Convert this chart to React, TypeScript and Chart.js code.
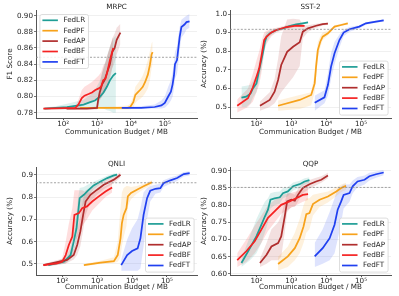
import React, { useEffect, useRef } from 'react';
import { Chart, registerables } from 'chart.js';

Chart.register(...registerables);

const FONT = '"DejaVu Sans", sans-serif';
const TEXT = '#262626';
const FS = 7.2;

const seriesNames = ['FedLR', 'FedPF', 'FedAP', 'FedBF', 'FedFT'];
const seriesColors = ['#1f9e96', '#f7a21b', '#b02e2e', '#f52222', '#2040f0'];
const xTickValues = [100, 1000, 10000, 100000];
const xTickLabels = ['10²', '10³', '10⁴', '10⁵'];
const xTitle = 'Communication Budget / MB';

// each point: [budget MB, mean, band low, band high]
const mrpcFedLR = [[28, 0.785, 0.784, 0.786], [60, 0.786, 0.784, 0.788], [130, 0.787, 0.784, 0.791], [400, 0.79, 0.785, 0.796], [630, 0.793, 0.786, 0.802], [870, 0.795, 0.786, 0.808], [1230, 0.8, 0.786, 0.82], [1550, 0.805, 0.785, 0.835], [1950, 0.812, 0.783, 0.85], [2400, 0.82, 0.782, 0.862], [3000, 0.826, 0.78, 0.872], [3600, 0.829, 0.78, 0.875]];
const mrpcFedPF = [[316, 0.786, 0.785, 0.787], [1000, 0.786, 0.785, 0.787], [4000, 0.786, 0.784, 0.788], [7900, 0.786, 0.784, 0.789], [9550, 0.787, 0.784, 0.791], [11750, 0.793, 0.786, 0.8], [13500, 0.802, 0.792, 0.812], [15850, 0.805, 0.795, 0.816], [18600, 0.808, 0.797, 0.82], [22400, 0.812, 0.8, 0.826], [26300, 0.818, 0.804, 0.834], [31600, 0.827, 0.81, 0.845], [36300, 0.839, 0.82, 0.856], [40700, 0.852, 0.835, 0.866], [43650, 0.855, 0.84, 0.868]];
const mrpcFedAP = [[126, 0.785, 0.784, 0.786], [500, 0.785, 0.784, 0.786], [1000, 0.786, 0.784, 0.788], [1072, 0.795, 0.788, 0.8], [1200, 0.805, 0.795, 0.815], [1413, 0.815, 0.8, 0.83], [1660, 0.82, 0.805, 0.838], [1995, 0.83, 0.812, 0.85], [2400, 0.84, 0.82, 0.86], [2820, 0.855, 0.835, 0.872], [3311, 0.86, 0.842, 0.878], [3800, 0.87, 0.852, 0.885], [4470, 0.876, 0.86, 0.888], [4900, 0.879, 0.865, 0.89]];
const mrpcFedBF = [[26, 0.785, 0.784, 0.786], [229, 0.786, 0.784, 0.788], [282, 0.79, 0.785, 0.796], [355, 0.798, 0.788, 0.808], [427, 0.801, 0.79, 0.812], [562, 0.803, 0.792, 0.815], [708, 0.805, 0.794, 0.818], [891, 0.808, 0.796, 0.822], [1122, 0.81, 0.797, 0.826], [1318, 0.812, 0.798, 0.83], [1514, 0.82, 0.803, 0.838], [1778, 0.822, 0.806, 0.842], [1995, 0.83, 0.812, 0.85], [2400, 0.845, 0.825, 0.862], [3000, 0.86, 0.84, 0.874]];
const mrpcFedFT = [[5370, 0.786, 0.785, 0.787], [20000, 0.786, 0.785, 0.788], [50100, 0.787, 0.785, 0.79], [79400, 0.789, 0.785, 0.795], [100000, 0.792, 0.786, 0.8], [125900, 0.8, 0.79, 0.812], [151400, 0.806, 0.795, 0.82], [169800, 0.815, 0.8, 0.83], [186200, 0.826, 0.81, 0.842], [199500, 0.84, 0.822, 0.855], [229100, 0.845, 0.828, 0.862], [251200, 0.86, 0.842, 0.875], [275400, 0.874, 0.858, 0.886], [309000, 0.886, 0.873, 0.895], [380200, 0.889, 0.878, 0.898], [436500, 0.892, 0.883, 0.9], [537000, 0.893, 0.885, 0.902]];
const mrpcYTicks = [0.78, 0.8, 0.82, 0.84, 0.86, 0.88, 0.9];
const mrpcYLabels = ['0.78', '0.80', '0.82', '0.84', '0.86', '0.88', '0.90'];
const mrpcThreshold = 0.8485;

const sst2FedLR = [[37, 0.55, 0.5, 0.61], [51, 0.556, 0.5, 0.615], [68, 0.573, 0.52, 0.62], [79, 0.6, 0.55, 0.64], [100, 0.627, 0.58, 0.67], [120, 0.7, 0.65, 0.75], [138, 0.753, 0.7, 0.8], [155, 0.797, 0.75, 0.84], [174, 0.85, 0.81, 0.88], [195, 0.878, 0.85, 0.9], [240, 0.896, 0.88, 0.91], [372, 0.914, 0.905, 0.922], [575, 0.923, 0.915, 0.93], [891, 0.935, 0.928, 0.942], [1380, 0.944, 0.938, 0.95], [2138, 0.95, 0.945, 0.955], [3020, 0.955, 0.95, 0.96]];
const sst2FedPF = [[417, 0.507, 0.48, 0.535], [1738, 0.538, 0.49, 0.565], [3715, 0.565, 0.51, 0.58], [4677, 0.627, 0.58, 0.68], [5129, 0.717, 0.66, 0.77], [5754, 0.806, 0.76, 0.85], [6761, 0.851, 0.82, 0.88], [7943, 0.878, 0.86, 0.9], [11220, 0.896, 0.885, 0.91], [17380, 0.932, 0.925, 0.94], [26920, 0.941, 0.935, 0.948], [41690, 0.95, 0.945, 0.955]];
const sst2FedAP = [[126, 0.507, 0.48, 0.53], [240, 0.538, 0.5, 0.58], [331, 0.582, 0.52, 0.65], [417, 0.645, 0.55, 0.76], [513, 0.726, 0.58, 0.88], [759, 0.797, 0.62, 0.97], [1122, 0.824, 0.66, 0.975], [1738, 0.848, 0.72, 0.97], [2138, 0.905, 0.87, 0.94], [3020, 0.923, 0.905, 0.94], [5129, 0.937, 0.925, 0.948], [7943, 0.946, 0.938, 0.952], [11220, 0.948, 0.942, 0.954]];
const sst2FedBF = [[28, 0.507, 0.47, 0.54], [57, 0.547, 0.5, 0.6], [79, 0.606, 0.53, 0.68], [100, 0.663, 0.58, 0.75], [120, 0.708, 0.62, 0.8], [138, 0.77, 0.68, 0.85], [166, 0.86, 0.8, 0.9], [195, 0.878, 0.84, 0.91], [269, 0.901, 0.88, 0.92], [372, 0.914, 0.9, 0.926], [724, 0.93, 0.92, 0.94], [1380, 0.937, 0.93, 0.944], [2400, 0.936, 0.93, 0.942]];
const sst2FedFT = [[4677, 0.523, 0.48, 0.56], [8913, 0.552, 0.52, 0.59], [11220, 0.618, 0.56, 0.68], [13800, 0.717, 0.65, 0.79], [17380, 0.789, 0.73, 0.85], [23990, 0.86, 0.82, 0.89], [31620, 0.9, 0.88, 0.915], [46770, 0.918, 0.905, 0.93], [89130, 0.932, 0.922, 0.94], [138000, 0.95, 0.942, 0.956], [269200, 0.959, 0.953, 0.965], [446700, 0.966, 0.96, 0.972]];
const sst2YTicks = [0.5, 0.6, 0.7, 0.8, 0.9, 1.0];
const sst2YLabels = ['0.5', '0.6', '0.7', '0.8', '0.9', '1.0'];
const sst2Threshold = 0.9176;

const qnliFedLR = [[40, 0.495, 0.49, 0.5], [112, 0.51, 0.5, 0.52], [174, 0.54, 0.52, 0.57], [214, 0.6, 0.55, 0.66], [257, 0.66, 0.6, 0.73], [288, 0.735, 0.67, 0.8], [316, 0.795, 0.74, 0.84], [417, 0.81, 0.77, 0.845], [537, 0.828, 0.8, 0.855], [794, 0.852, 0.835, 0.868], [1259, 0.87, 0.858, 0.882], [1950, 0.885, 0.875, 0.895], [3020, 0.897, 0.89, 0.905], [3715, 0.9, 0.893, 0.907]];
const qnliFedPF = [[417, 0.495, 0.49, 0.5], [1259, 0.506, 0.5, 0.515], [3020, 0.513, 0.505, 0.53], [3890, 0.54, 0.51, 0.6], [4677, 0.615, 0.53, 0.75], [5129, 0.683, 0.58, 0.82], [5754, 0.72, 0.62, 0.84], [6918, 0.75, 0.67, 0.85], [7586, 0.803, 0.76, 0.85], [9333, 0.818, 0.79, 0.845], [13800, 0.833, 0.815, 0.85], [21380, 0.848, 0.835, 0.86], [37150, 0.866, 0.855, 0.875]];
const qnliFedAP = [[29, 0.495, 0.49, 0.5], [138, 0.518, 0.505, 0.53], [214, 0.54, 0.52, 0.57], [269, 0.585, 0.54, 0.64], [331, 0.645, 0.58, 0.72], [398, 0.72, 0.65, 0.79], [468, 0.78, 0.72, 0.83], [646, 0.81, 0.78, 0.84], [1000, 0.833, 0.81, 0.855], [1549, 0.855, 0.835, 0.873], [3020, 0.878, 0.862, 0.892], [4677, 0.9, 0.888, 0.912]];
const qnliFedBF = [[29, 0.495, 0.49, 0.5], [72, 0.503, 0.495, 0.51], [100, 0.51, 0.5, 0.525], [126, 0.54, 0.5, 0.6], [155, 0.585, 0.52, 0.68], [195, 0.623, 0.54, 0.75], [224, 0.72, 0.6, 0.83], [302, 0.728, 0.63, 0.83], [372, 0.75, 0.67, 0.83], [513, 0.758, 0.7, 0.82], [724, 0.78, 0.74, 0.82], [1122, 0.803, 0.77, 0.835], [1738, 0.825, 0.8, 0.85], [2692, 0.843, 0.82, 0.865]];
const qnliFedFT = [[4898, 0.495, 0.47, 0.52], [7244, 0.54, 0.47, 0.61], [10000, 0.558, 0.47, 0.66], [14450, 0.57, 0.47, 0.7], [17380, 0.615, 0.48, 0.75], [21380, 0.72, 0.58, 0.82], [26920, 0.795, 0.7, 0.84], [33110, 0.828, 0.78, 0.85], [46770, 0.837, 0.815, 0.855], [64570, 0.84, 0.82, 0.86], [79430, 0.862, 0.845, 0.875], [125900, 0.875, 0.86, 0.888], [195000, 0.885, 0.872, 0.897], [302000, 0.903, 0.892, 0.912], [446700, 0.907, 0.897, 0.916]];
const qnliYTicks = [0.5, 0.6, 0.7, 0.8, 0.9];
const qnliYLabels = ['0.5', '0.6', '0.7', '0.8', '0.9'];
const qnliThreshold = 0.864;

const qqpFedLR = [[37, 0.632, 0.62, 0.645], [65, 0.675, 0.64, 0.71], [100, 0.71, 0.66, 0.76], [138, 0.743, 0.69, 0.79], [174, 0.767, 0.72, 0.81], [214, 0.787, 0.75, 0.82], [251, 0.816, 0.79, 0.835], [331, 0.82, 0.8, 0.838], [468, 0.823, 0.805, 0.84], [575, 0.835, 0.82, 0.85], [794, 0.84, 0.826, 0.853], [1122, 0.855, 0.843, 0.866], [1738, 0.861, 0.85, 0.871], [2399, 0.869, 0.86, 0.878], [3311, 0.873, 0.865, 0.881]];
const qqpFedPF = [[417, 0.629, 0.61, 0.65], [794, 0.651, 0.62, 0.68], [1259, 0.675, 0.64, 0.72], [1738, 0.704, 0.66, 0.76], [2239, 0.738, 0.69, 0.8], [2692, 0.774, 0.72, 0.82], [3311, 0.777, 0.73, 0.82], [4169, 0.803, 0.77, 0.83], [6457, 0.816, 0.795, 0.835], [11220, 0.825, 0.808, 0.84], [19500, 0.84, 0.826, 0.852], [26920, 0.85, 0.838, 0.86], [37150, 0.856, 0.845, 0.865]];
const qqpFedAP = [[126, 0.632, 0.62, 0.645], [195, 0.656, 0.63, 0.69], [269, 0.68, 0.64, 0.73], [417, 0.69, 0.64, 0.75], [513, 0.709, 0.65, 0.77], [646, 0.767, 0.72, 0.81], [759, 0.811, 0.78, 0.835], [1000, 0.816, 0.795, 0.835], [1259, 0.813, 0.795, 0.83], [1549, 0.83, 0.81, 0.848], [2138, 0.85, 0.835, 0.865], [3311, 0.861, 0.848, 0.873], [5129, 0.869, 0.858, 0.88], [7244, 0.874, 0.865, 0.884], [11220, 0.886, 0.878, 0.894]];
const qqpFedBF = [[28, 0.64, 0.62, 0.66], [51, 0.666, 0.635, 0.7], [89, 0.695, 0.66, 0.74], [138, 0.729, 0.69, 0.77], [214, 0.763, 0.725, 0.8], [331, 0.782, 0.75, 0.815], [513, 0.801, 0.775, 0.83], [891, 0.811, 0.79, 0.835], [1380, 0.82, 0.8, 0.84], [2138, 0.83, 0.81, 0.848], [3020, 0.832, 0.815, 0.85]];
const qqpFedFT = [[4677, 0.651, 0.62, 0.69], [7943, 0.675, 0.63, 0.73], [12590, 0.704, 0.64, 0.78], [17380, 0.743, 0.66, 0.82], [21380, 0.787, 0.7, 0.85], [26920, 0.811, 0.75, 0.855], [31620, 0.83, 0.79, 0.86], [46770, 0.835, 0.81, 0.86], [57540, 0.855, 0.835, 0.872], [79430, 0.869, 0.852, 0.882], [125900, 0.874, 0.86, 0.886], [173800, 0.884, 0.872, 0.894], [269200, 0.89, 0.88, 0.898], [446700, 0.895, 0.887, 0.902]];
const qqpYTicks = [0.6, 0.65, 0.7, 0.75, 0.8, 0.85, 0.9];
const qqpYLabels = ['0.60', '0.65', '0.70', '0.75', '0.80', '0.85', '0.90'];
const qqpThreshold = 0.8516;

interface PanelDef {
  title: string; yTitle: string; series: number[][][]; yTicks: number[]; yLabels: string[];
  threshold: number; legend: 'ul' | 'lr';
  xMin: number; xMax: number; yMin: number; yMax: number;
  cx: number; cy: number; cw: number; ch: number;
  l: number; t: number; r: number; b: number;
  yTitlePad: number; xTitlePad: number;
}

const panels: PanelDef[] = [
  { title: 'MRPC', yTitle: 'F1 Score', series: [mrpcFedLR, mrpcFedPF, mrpcFedAP, mrpcFedBF, mrpcFedFT], yTicks: mrpcYTicks, yLabels: mrpcYLabels, threshold: mrpcThreshold, legend: 'ul', xMin: 15.8, xMax: 891000, yMin: 0.7734, yMax: 0.907, cx: 0, cy: 0, cw: 200, ch: 148, l: 36, t: 10, r: 197, b: 118, yTitlePad: 5.7, xTitlePad: 12 },
  { title: 'SST-2', yTitle: 'Accuracy (%)', series: [sst2FedLR, sst2FedPF, sst2FedAP, sst2FedBF, sst2FedFT], yTicks: sst2YTicks, yLabels: sst2YLabels, threshold: sst2Threshold, legend: 'lr', xMin: 17.4, xMax: 724000, yMin: 0.441, yMax: 1.0215, cx: 200, cy: 0, cw: 199, ch: 148, l: 230, t: 10, r: 391, b: 118, yTitlePad: 0, xTitlePad: 12 },
  { title: 'QNLI', yTitle: 'Accuracy (%)', series: [qnliFedLR, qnliFedPF, qnliFedAP, qnliFedBF, qnliFedFT], yTicks: qnliYTicks, yLabels: qnliYLabels, threshold: qnliThreshold, legend: 'lr', xMin: 17.8, xMax: 724000, yMin: 0.4507, yMax: 0.9346, cx: 0, cy: 148, cw: 200, ch: 148, l: 36, t: 167, r: 197, b: 275, yTitlePad: 6, xTitlePad: 4.2 },
  { title: 'QQP', yTitle: 'Accuracy (%)', series: [qqpFedLR, qqpFedPF, qqpFedAP, qqpFedBF, qqpFedFT], yTicks: qqpYTicks, yLabels: qqpYLabels, threshold: qqpThreshold, legend: 'lr', xMin: 17.4, xMax: 724000, yMin: 0.597, yMax: 0.911, cx: 200, cy: 148, cw: 199, ch: 148, l: 230, t: 167, r: 391, b: 275, yTitlePad: 0, xTitlePad: 4.2 },
];

function rgba(hex: string, a: number) {
  const n = parseInt(hex.slice(1), 16);
  return `rgba(${(n >> 16) & 255},${(n >> 8) & 255},${n & 255},${a})`;
}

const decorPlugin = {
  id: 'decor',
  afterDatasetsDraw(chart: any, _args: any, opts: any) {
    const { ctx, chartArea: a, scales } = chart;
    const y = scales.y.getPixelForValue(opts.threshold);
    ctx.save();
    ctx.beginPath();
    ctx.setLineDash([2, 1.6]);
    ctx.strokeStyle = '#8c8c8c';
    ctx.lineWidth = 0.8;
    ctx.moveTo(a.left, y);
    ctx.lineTo(a.right, y);
    ctx.stroke();
    ctx.restore();
  },
  afterDraw(chart: any, _args: any, opts: any) {
    const { ctx, chartArea: a } = chart;
    ctx.save();
    ctx.font = `${FS}px ${FONT}`;
    ctx.fillStyle = TEXT;
    ctx.textAlign = 'center';
    ctx.textBaseline = 'middle';
    ctx.fillText(opts.title, (a.left + a.right) / 2, a.top - 3.2);

    const textW = Math.max(...seriesNames.map((n) => ctx.measureText(n).width));
    const rowH = 10.4;
    const boxW = 24 + textW + 2.6;
    const boxH = seriesNames.length * rowH + 2;
    let bx: number, by: number;
    if (opts.legend === 'ul') { bx = a.left + 3.4; by = a.top + 4; }
    else { bx = a.right - 3.4 - boxW; by = a.bottom - 3.4 - boxH; }
    ctx.beginPath();
    if (ctx.roundRect) ctx.roundRect(bx + 0.5, by + 0.5, boxW, boxH, 2);
    else ctx.rect(bx + 0.5, by + 0.5, boxW, boxH);
    ctx.fillStyle = 'rgba(255,255,255,0.85)';
    ctx.fill();
    ctx.strokeStyle = '#d4d4d4';
    ctx.lineWidth = 0.8;
    ctx.stroke();
    seriesNames.forEach((n, i) => {
      const cy = by + 6.3 + i * rowH;
      ctx.beginPath();
      ctx.strokeStyle = seriesColors[i];
      ctx.lineWidth = 1.7;
      ctx.moveTo(bx + 3, cy);
      ctx.lineTo(bx + 18.5, cy);
      ctx.stroke();
      ctx.fillStyle = TEXT;
      ctx.textAlign = 'left';
      ctx.fillText(n, bx + 24, cy);
    });
    ctx.restore();
  },
};

function PanelChart({ p }: { p: PanelDef }) {
  const ref = useRef<HTMLCanvasElement>(null);
  useEffect(() => {
    const cv = ref.current;
    if (!cv) return;
    const datasets: any[] = [];
    p.series.forEach((pts, i) => {
      const c = seriesColors[i];
      datasets.push({ label: 'lo', data: pts.map((q) => ({ x: q[0], y: q[2] })), borderColor: 'rgba(0,0,0,0)', borderWidth: 0, pointRadius: 0, fill: false, order: 20 });
      datasets.push({ label: 'hi', data: pts.map((q) => ({ x: q[0], y: q[3] })), borderColor: 'rgba(0,0,0,0)', borderWidth: 0, pointRadius: 0, fill: '-1', backgroundColor: rgba(c, 0.15), order: 20 });
    });
    p.series.forEach((pts, i) => {
      datasets.push({ label: seriesNames[i], data: pts.map((q) => ({ x: q[0], y: q[1] })), borderColor: seriesColors[i], borderWidth: 1.75, pointRadius: 0, fill: false, tension: 0, order: 5 - i });
    });
    const font = { family: FONT, size: FS };
    const yw = p.l - p.cx;
    const xh = p.cy + p.ch - p.b;
    const chart = new Chart(cv, {
      type: 'line',
      data: { datasets },
      plugins: [decorPlugin as any],
      options: {
        responsive: false,
        maintainAspectRatio: false,
        animation: false,
        devicePixelRatio: 1,
        events: [],
        layout: { padding: { left: 0, top: p.t - p.cy, right: p.cx + p.cw - p.r, bottom: 0 } },
        plugins: {
          legend: { display: false },
          tooltip: { enabled: false },
          title: { display: false },
          decor: { threshold: p.threshold, title: p.title, legend: p.legend },
        } as any,
        scales: {
          x: {
            type: 'logarithmic',
            bounds: 'data',
            min: p.xMin,
            max: p.xMax,
            afterBuildTicks: (s: any) => { s.ticks = xTickValues.map((v) => ({ value: v })); },
            afterFit: (s: any) => { s.height = xh; },
            ticks: { callback: (_v: any, i: number) => xTickLabels[i], font, color: TEXT, padding: 0, maxRotation: 0, autoSkip: false },
            grid: { display: true, drawOnChartArea: false, drawTicks: true, tickLength: 2, tickColor: '#555' },
            border: { display: true, color: '#555', width: 1 },
            title: { display: true, text: xTitle, font, color: TEXT, padding: { top: 0, bottom: p.xTitlePad } },
          },
          y: {
            type: 'linear',
            bounds: 'data',
            min: p.yMin,
            max: p.yMax,
            afterBuildTicks: (s: any) => { s.ticks = p.yTicks.map((v) => ({ value: v })); },
            afterFit: (s: any) => { s.width = yw; },
            ticks: { callback: (_v: any, i: number) => p.yLabels[i], font, color: TEXT, padding: 1, autoSkip: false },
            grid: { color: '#ececec', lineWidth: 0.8, drawTicks: true, tickLength: 2, tickColor: '#555' },
            border: { display: true, color: '#555', width: 1 },
            title: { display: true, text: p.yTitle, font, color: TEXT, padding: { top: p.yTitlePad, bottom: 0 } },
          },
        } as any,
      },
    } as any);
    return () => chart.destroy();
  }, [p]);
  return (
    <canvas
      ref={ref}
      width={p.cw}
      height={p.ch}
      style={{ position: 'absolute', left: p.cx, top: p.cy, width: p.cw, height: p.ch, display: 'block' }}
    />
  );
}

export default function App() {
  return (
    <div style={{ position: 'fixed', left: 0, top: 0, width: 399, height: 296, background: '#ffffff', overflow: 'hidden' }}>
      {panels.map((p) => (
        <PanelChart key={p.title} p={p} />
      ))}
    </div>
  );
}
